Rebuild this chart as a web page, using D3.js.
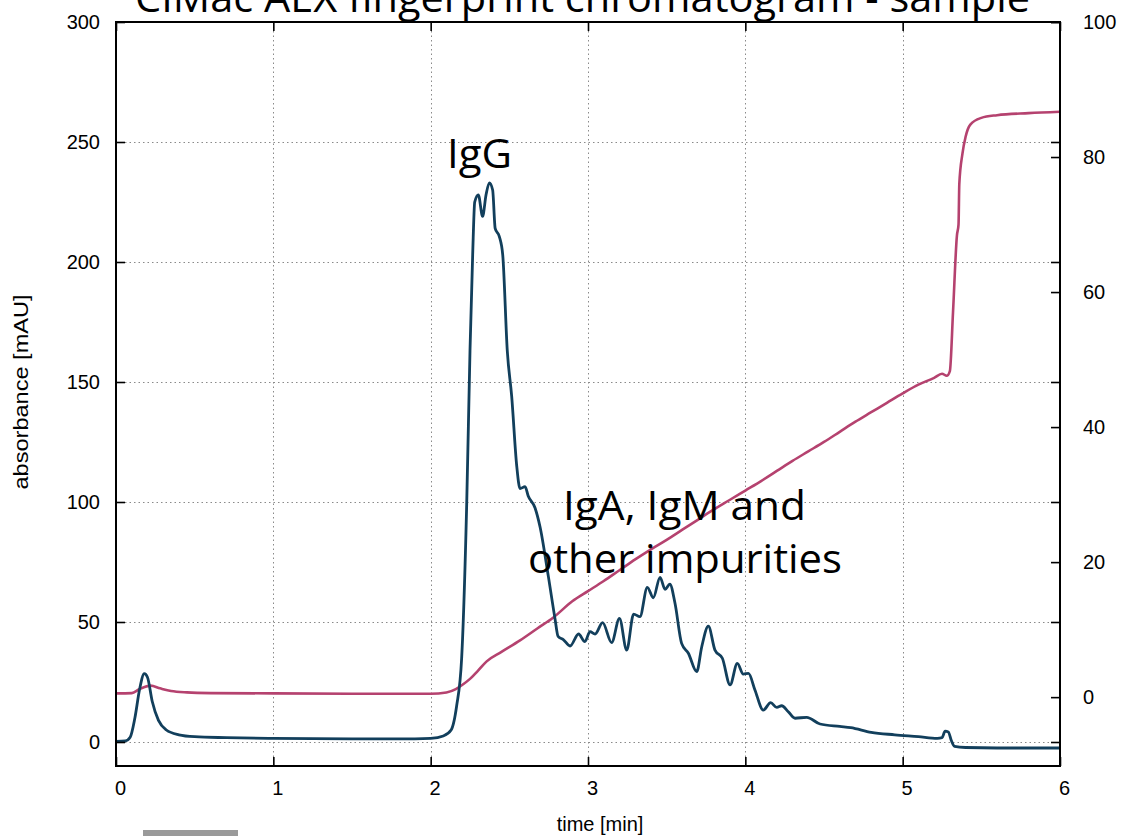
<!DOCTYPE html>
<html>
<head>
<meta charset="utf-8">
<script src="https://cdn.jsdelivr.net/npm/d3@7"></script>
<style>
  body { margin: 0; background: #fff; }
  svg { display: block; }
</style>
</head>
<body>
<svg width="1122" height="836"></svg>
<script>
// absorbance trace (left axis, mAU)
const timeAbs = [0, 0.06, 0.09, 0.12, 0.15, 0.18, 0.20, 0.23, 0.27, 0.32, 0.40, 0.50, 0.70, 1.0, 1.5, 1.9, 2.0, 2.08,
    2.13, 2.165, 2.197, 2.229, 2.25, 2.267, 2.28, 2.303, 2.33, 2.352, 2.373, 2.394, 2.41, 2.436, 2.458, 2.487,
    2.515, 2.547, 2.568, 2.60, 2.62, 2.663, 2.695, 2.748, 2.79, 2.81, 2.843, 2.886, 2.94, 2.98, 3.013, 3.045,
    3.093, 3.15, 3.20, 3.246, 3.29, 3.33, 3.377, 3.415, 3.458, 3.49, 3.52, 3.553, 3.595, 3.638, 3.691, 3.723,
    3.765, 3.807, 3.854, 3.903, 3.949, 3.987, 4.02, 4.061, 4.114, 4.161, 4.20, 4.231, 4.273, 4.316, 4.39, 4.475,
    4.60, 4.67, 4.80, 4.95, 5.10, 5.22, 5.25, 5.27, 5.29, 5.31, 5.33, 5.40, 5.60, 6.0];
const absorbance = [0.3, 0.5, 2, 10, 22, 28.5, 27, 17, 9, 5, 3, 2.2, 1.8, 1.5, 1.3, 1.3, 1.5, 2.5,
    5, 15, 35, 99, 163, 203, 225, 228, 219, 228, 233, 230, 214, 210.7, 203, 163,
    144, 115, 105.6, 106.4, 102.5, 97.6, 89.7, 69, 51.5, 44, 42.7, 40, 45, 41.8, 46, 45,
    49.7, 41.4, 51.5, 38.3, 53.3, 52.2, 64.4, 60.1, 68.6, 63.6, 65.8, 57.8, 41.1, 37, 29.3, 39.7,
    48.3, 38.3, 34.9, 23.8, 32.8, 28.3, 28.6, 21.7, 13.3, 16.4, 14.4, 15.1, 12.6, 9.9, 10.3, 7.5,
    6.5, 6, 4, 3, 2.2, 1.5, 1.8, 4.5, 4.2, 0.5, -1.8, -2.3, -2.5, -2.5];

// gradient trace (right axis, %)
const timeGrad = [0, 0.10, 0.15, 0.22, 0.28, 0.35, 0.45, 0.6, 1.0, 1.5, 2.0, 2.1, 2.16, 2.2, 2.25, 2.3, 2.356,
    2.45, 2.568, 2.68, 2.78, 2.9, 3.0, 3.1, 3.2, 3.3, 3.4, 3.5, 3.6, 3.7, 3.8, 3.9, 4.0, 4.1, 4.2, 4.3, 4.4,
    4.5, 4.6, 4.7, 4.8, 4.9, 5.0, 5.1, 5.2, 5.25, 5.28, 5.30, 5.32, 5.345, 5.355, 5.36, 5.38, 5.40, 5.43,
    5.5, 5.6, 5.8, 6.0];
const gradient = [0.55, 0.6, 1.2, 1.7, 1.3, 0.9, 0.7, 0.6, 0.55, 0.5, 0.5, 0.7, 1.2, 1.8, 2.7, 3.9, 5.3,
    6.7, 8.4, 10.2, 11.8, 14.2, 15.7, 17.2, 18.8, 20.4, 21.9, 23.3, 24.8, 26.3, 27.8, 29.2, 30.6, 32.0, 33.5, 35.0, 36.4,
    37.8, 39.3, 40.8, 42.2, 43.6, 45.0, 46.3, 47.3, 47.9, 47.6, 48.3, 57, 68.4, 70, 76, 80.5, 83, 84.8,
    85.8, 86.2, 86.5, 86.7];

const xTicks = [0, 1, 2, 3, 4, 5, 6];
const leftTicks = [0, 50, 100, 150, 200, 250, 300];
const rightTicks = [0, 20, 40, 60, 80, 100];

const title = "CIMac AEX fingerprint chromatogram - sample";
const labelIgG = "IgG";
const labelOther = ["IgA, IgM and", "other impurities"];

const plotLeft = 116, plotRight = 1060, plotTop = 22, plotBottom = 766;

const svg = d3.select("svg");

const x = d3.scaleLinear().domain([0, 6]).range([plotLeft, plotRight]);
const yL = d3.scaleLinear().domain([-10, 300]).range([plotBottom, plotTop]);
const yR = d3.scaleLinear().domain([-10.2, 100]).range([plotBottom, plotTop]);

// dotted grid
const grid = svg.append("g").attr("stroke", "#8a8a8a").attr("stroke-width", 1).attr("stroke-dasharray", "1.5,3");
grid.selectAll(".hgrid")
    .data(leftTicks.filter(d => d < 300))
    .enter().append("line")
    .attr("x1", plotLeft).attr("x2", plotRight)
    .attr("y1", d => Math.round(yL(d)) + 0.5).attr("y2", d => Math.round(yL(d)) + 0.5);
grid.selectAll(".vgrid")
    .data(xTicks.filter(d => d > 0 && d < 6))
    .enter().append("line")
    .attr("y1", plotTop).attr("y2", plotBottom)
    .attr("x1", d => Math.round(x(d)) + 0.5).attr("x2", d => Math.round(x(d)) + 0.5);

svg.append("clipPath").attr("id", "plot")
    .append("rect").attr("x", plotLeft).attr("y", plotTop)
    .attr("width", plotRight - plotLeft).attr("height", plotBottom - plotTop);

const plot = svg.append("g").attr("clip-path", "url(#plot)");

const lineGrad = d3.line()
    .x((d, i) => x(timeGrad[i]))
    .y(d => yR(d))
    .curve(d3.curveMonotoneX);
const lineAbs = d3.line()
    .x((d, i) => x(timeAbs[i]))
    .y(d => yL(d))
    .curve(d3.curveMonotoneX);

plot.append("path")
    .datum(gradient)
    .attr("fill", "none")
    .attr("stroke", "#b5426f")
    .attr("stroke-width", 2.6)
    .attr("d", lineGrad);

plot.append("path")
    .datum(absorbance)
    .attr("fill", "none")
    .attr("stroke", "#123f5c")
    .attr("stroke-width", 2.8)
    .attr("stroke-linejoin", "round")
    .attr("d", lineAbs);

// axes, ticks pointing inwards like gnuplot
function styleAxis(g) {
    g.select(".domain").remove();
    g.selectAll(".tick line").attr("stroke", "#000").attr("stroke-width", 1.6);
    g.selectAll("text")
        .attr("fill", "#000")
        .style("font-family", "'Liberation Sans', Arial, sans-serif")
        .style("font-size", "20px");
}

svg.append("g")
    .attr("transform", `translate(${plotLeft},0)`)
    .call(d3.axisLeft(yL).tickValues(leftTicks).tickSize(-9).tickPadding(16))
    .call(styleAxis);

svg.append("g")
    .attr("transform", `translate(${plotRight},0)`)
    .call(d3.axisRight(yL).tickValues(leftTicks).tickSize(-9).tickFormat(""))
    .call(styleAxis);

svg.append("g")
    .attr("transform", `translate(${plotRight},0)`)
    .call(d3.axisRight(yR).tickValues(rightTicks).tickSize(-9).tickPadding(23))
    .call(styleAxis);

svg.append("g")
    .attr("transform", `translate(0,${plotBottom})`)
    .call(d3.axisBottom(x).tickValues(xTicks).tickFormat(d3.format("d")).tickSize(-9).tickPadding(15))
    .call(styleAxis)
    .selectAll("text").attr("dx", 4);

svg.append("g")
    .attr("transform", `translate(0,${plotTop})`)
    .call(d3.axisTop(x).tickValues(xTicks).tickSize(-9).tickFormat(""))
    .call(styleAxis);

// frame
svg.append("rect")
    .attr("x", plotLeft).attr("y", plotTop)
    .attr("width", plotRight - plotLeft).attr("height", plotBottom - plotTop)
    .attr("fill", "none").attr("stroke", "#000").attr("stroke-width", 2);

// axis titles
svg.append("text")
    .attr("x", 600).attr("y", 831)
    .attr("text-anchor", "middle")
    .style("font-family", "'Liberation Sans', Arial, sans-serif")
    .style("font-size", "20px")
    .text("time [min]");

svg.append("text")
    .attr("transform", "translate(28,392) rotate(-90)")
    .attr("text-anchor", "middle")
    .attr("textLength", 195)
    .attr("lengthAdjust", "spacingAndGlyphs")
    .style("font-family", "'Liberation Sans', Arial, sans-serif")
    .style("font-size", "20px")
    .text("absorbance [mAU]");

// slide annotations
const annot = svg.append("g")
    .style("font-family", "'Open Sans', 'Noto Sans', sans-serif")
    .style("font-size", "40px")
    .attr("fill", "#000");

// title sits partly above the slide crop, as in the source picture
annot.append("text")
    .attr("x", 135).attr("y", 12)
    .attr("textLength", 895).attr("lengthAdjust", "spacingAndGlyphs")
    .text(title);

annot.append("text")
    .attr("x", 447).attr("y", 168)
    .attr("textLength", 65).attr("lengthAdjust", "spacingAndGlyphs")
    .text(labelIgG);

annot.selectAll(".other")
    .data(labelOther)
    .enter().append("text")
    .attr("x", (d, i) => i === 0 ? 563 : 528)
    .attr("y", (d, i) => i === 0 ? 520 : 573)
    .attr("textLength", (d, i) => i === 0 ? 243 : 314)
    .attr("lengthAdjust", "spacingAndGlyphs")
    .text(d => d);

// grey bar at the slide's bottom edge
svg.append("rect")
    .attr("x", 143).attr("y", 830).attr("width", 95).attr("height", 6)
    .attr("fill", "#9a9a9a");
</script>
</body>
</html>
